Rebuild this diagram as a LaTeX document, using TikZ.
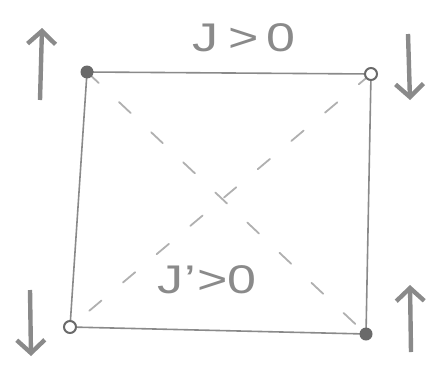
\documentclass[tikz,border=0pt]{standalone}
\usepackage{fontspec}
\setmainfont{Liberation Sans}
\usetikzlibrary{arrows.meta}
\definecolor{pen}{HTML}{8A8A8A}
\definecolor{dotc}{HTML}{6A6A6A}
\definecolor{dashc}{HTML}{B0B0B0}
\tikzset{
  edge/.style={draw=pen, line width=1.6pt},
  diag/.style={draw=dashc, line width=1.8pt, dash pattern=on 16pt off 28pt, line cap=round},
  spin/.style={draw=pen, line width=4.4pt, -{Straight Barb[length=13pt,width=28pt,line width=4.4pt]}},
  fulldot/.style={circle, fill=dotc, inner sep=0pt, minimum size=13pt},
  opendot/.style={circle, draw=dotc, line width=2pt, fill=white, inner sep=0pt, minimum size=12pt},
  lbl/.style={text=pen, font=\fontsize{40}{40}\selectfont, inner sep=0pt}
}
\begin{document}
\begin{tikzpicture}[x=1pt,y=-1pt]
\useasboundingbox (0,0) rectangle (438,372);
\coordinate (tl) at (87,72);
\coordinate (tr) at (371,74);
\coordinate (br) at (366,334);
\coordinate (bl) at (70,327);
% dashed diagonals
\draw[diag] (tl) -- (br);
\draw[diag] (tr) -- (bl);
% square
\draw[edge] (tl) -- (tr) -- (br) -- (bl) -- cycle;
% corner sites
\node[fulldot] (ntl) at (tl) {};
\node[opendot] (ntr) at (tr) {};
\node[opendot] (nbl) at (bl) {};
\node[fulldot] (nbr) at (br) {};
% spins
\coordinate (a1s) at (40,100); \coordinate (a1e) at (42,28);
\coordinate (a2s) at (408,34); \coordinate (a2e) at (410,100);
\coordinate (a3s) at (30,290); \coordinate (a3e) at (31,356);
\coordinate (a4s) at (411,352); \coordinate (a4e) at (410,285);
\draw[spin] (a1s) -- (a1e);
\draw[spin] (a2s) -- (a2e);
\draw[spin] (a3s) -- (a3e);
\draw[spin] (a4s) -- (a4e);
% labels
\node[lbl] (J) at (244,38) {\scalebox{1.3}[1]{J\hspace{8pt}>\hspace{6pt}0}};
\node[lbl] (Jp) at (207,280) {\scalebox{1.3}[1]{J\hspace{1pt}'\hspace{1pt}>\hspace{0pt}0}};
\end{tikzpicture}
\end{document}
